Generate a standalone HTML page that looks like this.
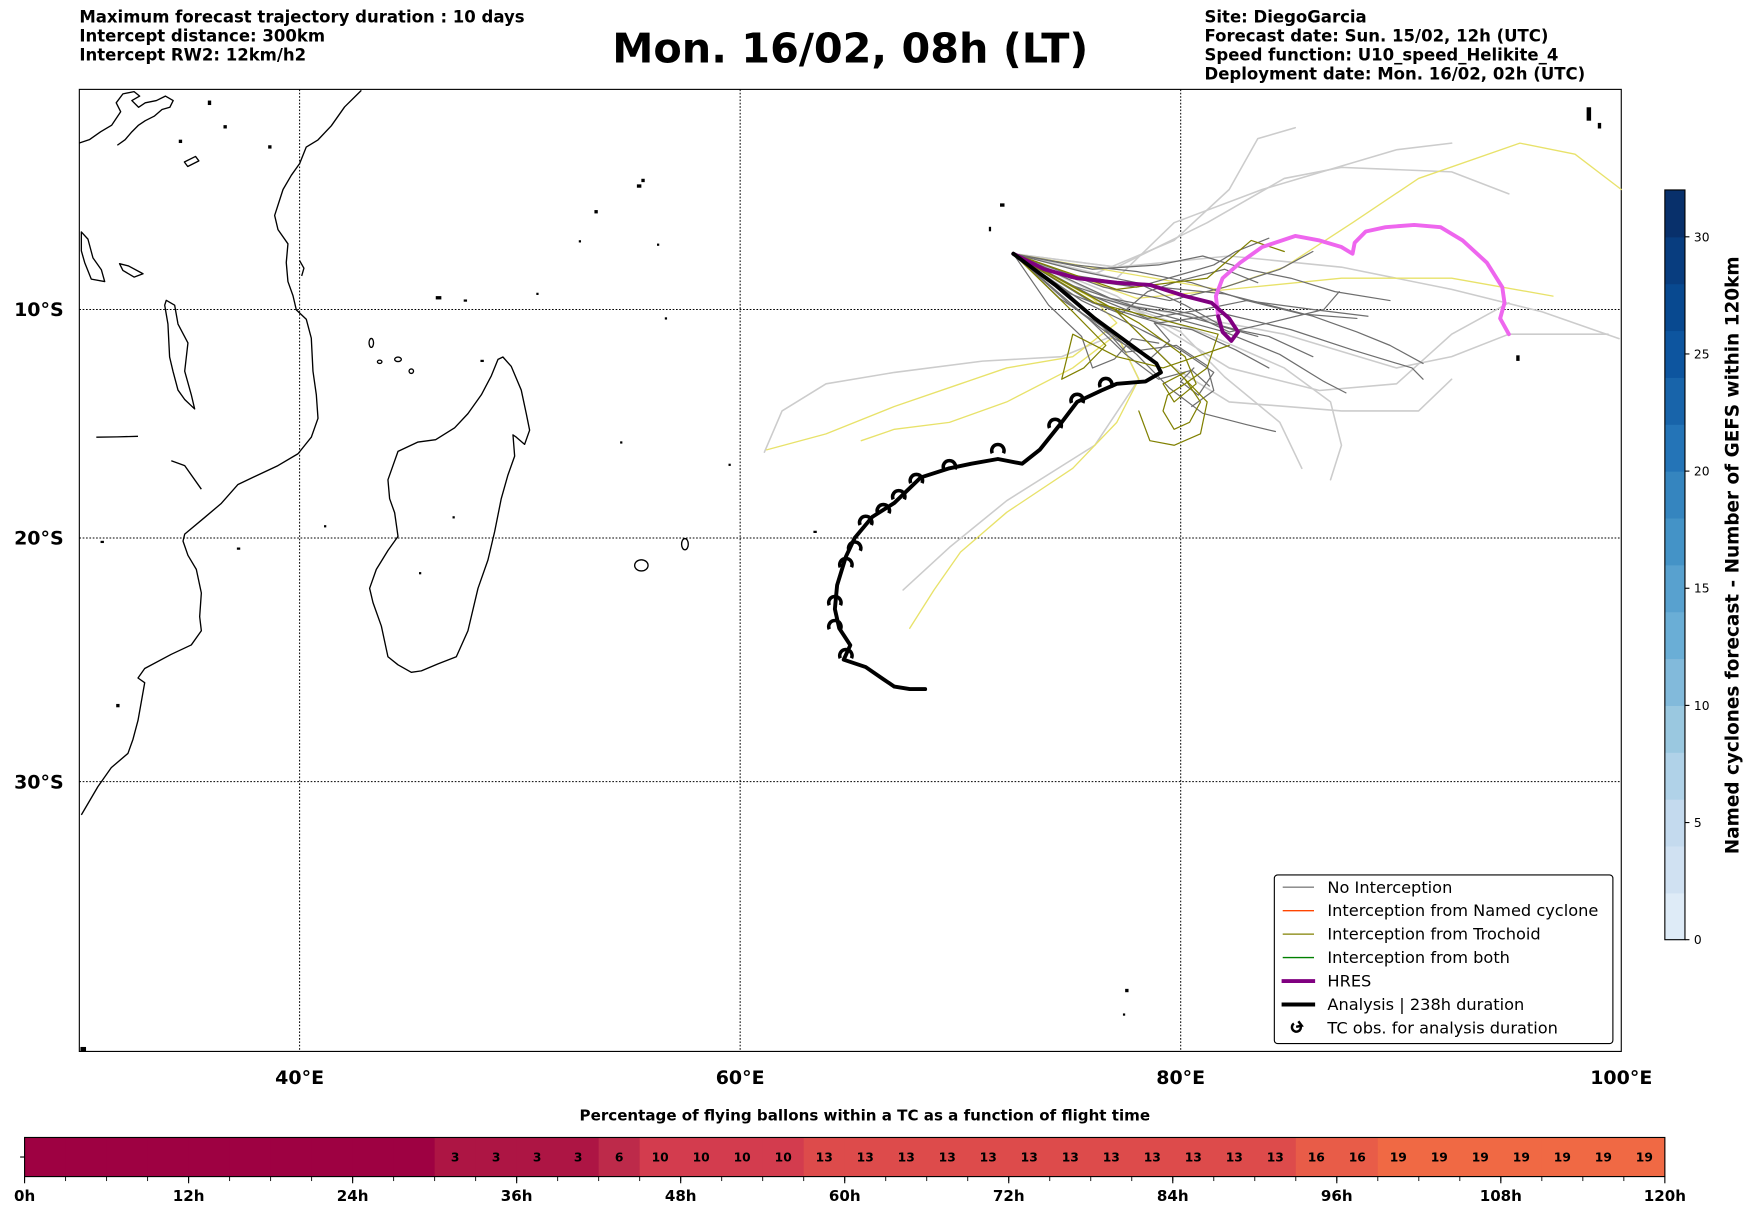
<!DOCTYPE html>
<html><head><meta charset="utf-8"><style>
html,body{margin:0;padding:0;background:#fff;}
svg{display:block;font-family:"DejaVu Sans","Liberation Sans",sans-serif;}
</style></head><body>
<svg id="chart" width="1752" height="1213" viewBox="0 0 1568 1085.6" preserveAspectRatio="none" xmlns="http://www.w3.org/2000/svg">
<g font-weight="bold" font-size="14.8">
<text x="71" y="20">Maximum forecast trajectory duration : 10 days</text>
<text x="71" y="37">Intercept distance: 300km</text>
<text x="71" y="54">Intercept RW2: 12km/h2</text>
<text x="1078" y="20">Site: DiegoGarcia</text>
<text x="1078" y="37">Forecast date: Sun. 15/02, 12h (UTC)</text>
<text x="1078" y="54">Speed function: U10_speed_Helikite_4</text>
<text x="1078" y="71">Deployment date: Mon. 16/02, 02h (UTC)</text>
</g>
<text x="761" y="56" text-anchor="middle" font-weight="bold" font-size="37">Mon. 16/02, 08h (LT)</text>

<g>
<rect x="71" y="80" width="1380" height="861" fill="#fff" stroke="#000" stroke-width="1"/>
<g fill="none" stroke="#000" stroke-width="1.2" stroke-linejoin="round">
<polyline points="323.4,80.9 308.4,95.7 296.5,112.6 284.6,125.2 274.1,131.6 268.2,146.3 260.7,156.9 253.3,169.6 245.8,192.8 248.8,205.5 257.7,218.2 256.2,235 257.7,252 262.2,264.6 265.2,277.3 274.1,285.7 278.6,302.6 280.1,332.2 283.1,353.3 284.6,374.4 278.6,391.3 266.7,406.1 248.8,416.7 230.9,425.1 213,433.6 198.1,450.5 183.2,463.1 165.3,478 163.8,484.3 168.2,497 175.7,509.6 180.2,530.7 178.7,551.9 180.2,564.5 171.2,577.2 153.3,585.6 129.5,598.3 123.5,606.8 129.5,611 126.5,627.9 123.5,644.8 119,661.7 114.5,674.3 99.6,687 87.7,703.9 72.8,729.3"/>
<polygon points="450.1,319.5 457.6,328 466.5,349.1 471,370.2 474,385 469.5,397.7 462.1,391.3 459.1,389.2 460.6,408.2 454.6,425.1 448.6,446.3 442.7,475.8 436.7,501.2 427.8,526.5 418.8,564.5 408.4,587.8 392,594.1 377.1,600.4 368.1,601.7 356.2,595 347.2,587.8 341.3,560.3 333.8,539.2 330.8,526.5 336.8,509.6 347.2,492.7 356.2,480 353.2,458.9 348.7,446.3 347.2,429.4 356.2,404 374.1,395.6 389.9,393.5 406.9,382.9 418.8,370.2 430.8,353.3 439.7,336.4 445.7,321.6"/>
<polygon points="148.8,268.8 156.3,273.1 159.3,290 168.2,306.9 165.3,332.2 171.2,353.3 174.2,366 165.3,357.5 159.3,349.1 154.8,332.2 151.8,319.5 150.3,290 147.4,273.1"/>
<polygon points="72.8,207.6 78.7,214 83.2,230.8 90.7,241.4 93.7,252 81.7,249.8 75.8,235 72.8,224.5"/>
<polyline points="71,128 80,125 90,118 100,112 108,100 104,92 110,84 120,82 125,86 118,90 124,96 130,92 140,90 148,86 155,90 152,96 145,98 138,104 130,108 124,112 118,118 112,125 105,130"/>
<polygon points="107,236 115,238 128,245 120,248 110,242"/>
<polyline points="86.2,391.3 105,391 123.5,390.5"/>
<polyline points="153.3,412.4 165.3,416.7 180.2,437.8"/>
<polygon points="165,145 175,140 178,144 168,149"/>
<ellipse cx="332.3" cy="306.9" rx="2" ry="4"/>
<ellipse cx="356.2" cy="321.6" rx="3" ry="2"/>
<ellipse cx="368.1" cy="332.2" rx="2" ry="2"/>
<ellipse cx="339.8" cy="323.8" rx="2" ry="1.5"/>
<ellipse cx="574" cy="506" rx="6" ry="5"/>
<ellipse cx="613" cy="487" rx="3" ry="5"/>
<polyline points="268,233 272,240 270,247"/>
</g>
<g fill="#000">
<rect x="574" y="160" width="3" height="3"/><rect x="570" y="165" width="4" height="3"/><rect x="532" y="188" width="3" height="3"/><rect x="518" y="215" width="2" height="2"/><rect x="588" y="218" width="2" height="2"/><rect x="595" y="284" width="2" height="2"/><rect x="480" y="262" width="2" height="2"/><rect x="390" y="265" width="5" height="3"/><rect x="415" y="268" width="3" height="2"/><rect x="430" y="322" width="3" height="2"/><rect x="555" y="395" width="2" height="2"/><rect x="652" y="415" width="2" height="2"/><rect x="728" y="475" width="3" height="2"/><rect x="895" y="182" width="4" height="3"/><rect x="885" y="203" width="2" height="4"/><rect x="1357" y="318" width="3" height="5"/><rect x="1007" y="885" width="3" height="3"/><rect x="1005" y="907" width="2" height="2"/><rect x="1420" y="96" width="4" height="12"/><rect x="1430" y="110" width="3" height="5"/><rect x="72" y="937" width="5" height="4"/><rect x="186" y="90" width="3" height="4"/><rect x="200" y="112" width="3" height="3"/><rect x="160" y="125" width="3" height="3"/><rect x="240" y="130" width="3" height="3"/><rect x="212" y="490" width="3" height="2"/><rect x="90" y="484" width="3" height="2"/><rect x="375" y="512" width="2" height="2"/><rect x="405" y="462" width="2" height="2"/><rect x="290" y="470" width="2" height="2"/><rect x="104" y="630" width="3" height="3"/>
</g>
<g id="grid" stroke="#000" stroke-width="0.9" stroke-dasharray="1.5,1.5"></g>
<g id="traj" fill="none" stroke-linejoin="round" stroke-linecap="round"></g>
<g id="tcobs" fill="none" stroke="#000" stroke-width="3.2"></g>
<g id="axlabels" font-weight="bold" font-size="17"></g>
</g>

<g font-size="14.5">
<rect x="1140.5" y="783" width="303" height="151" rx="3" fill="#fff" stroke="#000" stroke-width="1"/>
<line x1="1148" y1="794" x2="1176" y2="794" stroke="#808080" stroke-width="1.2"/><text x="1188" y="799">No Interception</text>
<line x1="1148" y1="815" x2="1176" y2="815" stroke="#ff4500" stroke-width="1.2"/><text x="1188" y="820">Interception from Named cyclone</text>
<line x1="1148" y1="836" x2="1176" y2="836" stroke="#808000" stroke-width="1.2"/><text x="1188" y="841">Interception from Trochoid</text>
<line x1="1148" y1="857" x2="1176" y2="857" stroke="#008000" stroke-width="1.2"/><text x="1188" y="862">Interception from both</text>
<line x1="1147" y1="878" x2="1177" y2="878" stroke="#800080" stroke-width="3.5"/><text x="1188" y="883">HRES</text>
<line x1="1147" y1="899" x2="1177" y2="899" stroke="#000" stroke-width="3.5"/><text x="1188" y="904">Analysis | 238h duration</text>
<path d="M1158,916 A4,4 0 1,0 1164,918 M1162,914 L1165,918 L1160,919" fill="none" stroke="#000" stroke-width="2.2"/><text x="1188" y="925">TC obs. for analysis duration</text>
</g>

<g id="cbar" font-size="11"></g>
<text transform="translate(1556,497) rotate(-90)" text-anchor="middle" font-weight="bold" font-size="16.5">Named cyclones forecast - Number of GEFS within 120km</text>

<text x="774" y="1003" text-anchor="middle" font-weight="bold" font-size="13.5">Percentage of flying ballons within a TC as a function of flight time</text>
<g id="hbar"></g>
</svg>
<script>
// ---------- map data (lon E, lat S) ----------
var lonTicks = [40, 60, 80, 100];
var latTicks = [10, 20, 30];
var startPt = [72.4, 7.5];
var noInterceptTracks = [
 [[72.4,7.5],[74,8.3],[76,8.6],[78,8.9],[80,9.1],[82,9.3],[84,9.8],[86,10.3],[88,11],[89.5,11.6],[91,12.4]],
 [[72.4,7.5],[75,8.9],[78,9.9],[79.5,10.1],[81,10.5],[82.5,10.9],[84,11.2],[86,12.1]],
 [[72.4,7.5],[75,8.6],[78,9.0],[80.5,8.3],[81.5,8.0],[82.5,7.4],[84,6.8]],
 [[72.4,7.5],[75.5,9.6],[78,10.8],[80,11.8],[81.5,12.8],[80.8,13.8],[80,13.2],[80.6,12.6]],
 [[72.4,7.5],[76,9.4],[79,10.2],[82,11.0],[84.5,12.0],[86.5,13.2],[87.5,13.7]],
 [[72.4,7.5],[74.5,9.5],[76.5,10.8],[78,12],[79.5,13.5],[81,14.6],[83,15.1],[84.3,15.4]],
 [[72.4,7.5],[76,8.2],[79,8.0],[81,7.6],[83,8.2],[85,8.6],[87,9.2],[89.5,9.6]],
 [[72.4,7.5],[75.5,9.2],[78.5,10.4],[81,10.0],[83,9.6],[85.5,10.2],[88,10.4]],
 [[72.4,7.5],[75,9.8],[77,11.3],[78.6,12.2],[79.5,11.4],[78.8,10.6],[80.5,10.9],[82.5,11.8],[84,12.6]],
 [[72.4,7.5],[76.5,9.0],[79.5,9.6],[82,9.0],[84.5,8.2],[86,7.4]],
 [[72.4,7.5],[75.5,8.3],[78,8.8],[80.2,9.8],[82,10.8],[83.5,11.2]],
 [[72.4,7.5],[74.8,9.2],[76.3,10.6],[77.5,11.9],[79.8,11.6],[81.2,12.5],[81.5,13.6],[80.5,14.3]],
 [[72.4,7.5],[76,9.7],[79,10.6],[82,10.2],[85,10.9],[87.8,11.8],[90.5,12.6],[91,13.1]],
 [[72.4,7.5],[75.2,8.0],[78,8.3],[80.5,8.8],[83,9.6],[86,10.0],[88.5,10.3]],
 [[72.4,7.5],[74,9.8],[75.5,11.2],[76,12.6],[77,12.2],[77.8,11.3],[79,11.5]],
 [[72.4,7.5],[76.8,9.5],[80.5,10.2],[82.2,11.0],[84,10.6],[86.5,10.0],[87.2,9.2]],
 [[72.4,7.5],[75,9.3],[77.3,10.2],[78.5,9.2],[80,8.7],[82,8.2],[83.5,8.8]],
 [[72.4,7.5],[75.8,10.4],[77.5,12.0],[79,13.1],[80.5,12.7],[81.3,13.4]]
];
var lightTracks = [
 [[72.4,7.5],[76.1,8.4],[79.7,6.9],[82.2,4.6],[83.5,2.3],[85.2,1.8]],
 [[72.4,7.5],[77.1,8.1],[82.2,7.6],[87.3,8.1],[92.3,9.1],[96.4,10.1],[99.9,11.3]],
 [[72.4,7.5],[77.1,9.7],[81.2,11.1],[84.7,12.6],[86.8,14.1],[87.3,16.0],[86.8,17.5]],
 [[72.4,7.5],[77.1,11.1],[74.6,12.1],[71.0,12.3],[67.0,12.8],[63.9,13.3],[61.9,14.5],[61.1,16.3]],
 [[72.4,7.5],[77.1,9.4],[79.7,11.1],[82.2,12.6],[86.3,13.6],[89.8,13.3],[92.3,11.1],[94.9,9.7]],
 [[72.4,7.5],[77.1,8.1],[81.2,6.1],[84.7,4.1],[87.3,3.6],[92.3,3.8],[94.9,4.8]],
 [[72.4,7.5],[77.1,11.1],[78.1,13.1],[76.1,16.0],[72.1,18.4],[69.5,20.4],[67.4,22.2]],
 [[72.4,7.5],[77.1,8.6],[79.7,6.1],[83.7,4.6],[89.8,2.8],[92.3,2.5]],
 [[72.4,7.5],[77.1,9.7],[84.7,11.1],[89.8,12.6],[92.3,12.1],[94.9,11.1],[99.4,11.1]],
 [[72.4,7.5],[77.1,10.1],[79.7,12.6],[82.2,14.1],[87.3,14.5],[90.8,14.5],[92.3,13.1]],
 [[72.4,7.5],[80,11],[82,13],[84.5,15],[85.5,17]]
];
var yellowTracks = [
 [[72.4,7.5],[81.7,9.1],[84.7,8.1],[87.8,6.1],[90.8,4.1],[95.4,2.5],[97.9,3.0],[100,4.6]],
 [[72.4,7.5],[76,9.5],[77.1,10.6],[75.1,12.1],[72.1,12.6],[70.0,13.3],[67.0,14.3],[63.9,15.5],[61.2,16.2]],
 [[72.4,7.5],[77.1,11.1],[75.1,12.6],[72.1,14.1],[69.5,15.0],[67.0,15.3],[65.5,15.8]],
 [[72.4,7.5],[77.1,11.1],[78.1,13.1],[77.1,15.0],[75.1,17.0],[72.1,18.9],[70.0,20.6],[68.8,22.2],[67.7,23.8]],
 [[72.4,7.5],[78,9.5],[82.2,9.1],[87.3,8.6],[92.3,8.6],[96.9,9.4]]
];
var trochoidTracks = [
 [[72.4,7.5],[76.1,9.7],[79.7,10.6],[81.7,11.1],[81.2,12.6],[80.2,13.3],[79.4,13.8],[79.2,14.5],[79.7,15.3],[80.4,15.0],[80.9,14.1],[80.2,13.1]],
 [[72.4,7.5],[75.1,10.1],[76.6,11.6],[75.6,12.6],[74.6,13.1],[75.1,11.1],[77.1,12.1],[79.2,12.6],[80.7,12.1],[82.2,11.6]],
 [[72.4,7.5],[77.1,9.1],[81.2,8.6],[83.2,6.9],[84.7,7.4]],
 [[72.4,7.5],[78.1,10.6],[80.2,12.1],[80.7,13.3],[79.7,14.1],[79.2,13.3],[80.2,12.8]],
 [[72.4,7.5],[77,10],[80.2,13.1],[81.2,14.1],[80.9,15.5],[79.7,16.0],[78.6,15.8],[78.1,14.5]]
];
var hresTrack = [[72.4,7.5],[73.8,8.2],[75.3,8.6],[77.1,8.8],[78.6,8.9],[80.2,9.4],[81.4,9.7],[82.2,10.4],[82.6,11.0],[82.3,11.4],[81.9,11.0],[81.7,10.3]];
var hresLateTrack = [[81.7,10.3],[81.6,9.4],[81.9,8.6],[82.7,7.9],[83.7,7.2],[85.2,6.7],[86.3,6.9],[87.3,7.2],[87.8,7.5],[87.9,7.0],[88.4,6.5],[89.3,6.3],[90.6,6.2],[91.8,6.3],[92.8,6.9],[93.9,7.9],[94.6,9.0],[94.7,9.7],[94.5,10.4],[94.9,11.1]];
var analysisTrack = [[72.4,7.5],[74.3,8.9],[76.1,10.4],[77.9,11.7],[78.9,12.4],[79.1,12.8],[78.4,13.2],[77.1,13.3],[76.4,13.6],[75.3,14.1],[74.6,15.0],[73.6,16.2],[72.8,16.8],[71.7,16.6],[70.5,16.8],[69.5,17.0],[68.2,17.4],[67.0,18.5],[66.0,19.1],[65.2,20.0],[64.8,20.8],[64.4,22.0],[64.3,23.0],[64.5,23.8],[65.0,24.5],[64.7,25.1],[65.7,25.4],[66.5,25.9],[67.0,26.2],[67.7,26.3],[68.4,26.3]];
var tcObs = [[76.6,13.3],[75.3,14.0],[74.3,15.1],[71.7,16.2],[69.5,16.9],[68.0,17.5],[67.2,18.2],[66.5,18.8],[65.7,19.3],[65.2,20.4],[64.8,21.1],[64.3,22.7],[64.3,23.7],[64.8,24.9]];

// ---------- colorbar / bottom bar data ----------
var cbarTicks = [0,5,10,15,20,25,30];
var cbarMax = 32;
var hourTicks = [0,12,24,36,48,60,72,84,96,108,120];
var pctValues = [0,0,0,0,0,0,0,0,0,0,3,3,3,3,6,10,10,10,10,13,13,13,13,13,13,13,13,13,13,13,13,16,16,19,19,19,19,19,19,19];
var stepHours = 3;

var NS='http://www.w3.org/2000/svg';
function mk(tag, attrs, parent){var e=document.createElementNS(NS,tag);for(var k in attrs){e.setAttribute(k,String(attrs[k]));}parent.appendChild(e);return e;}
function merc(d){return Math.log(Math.tan(Math.PI/4 + d*Math.PI/360));}
function xLon(lon){return 71 + (lon-30)*19.714;}
function yLat(lat){return 277 + (merc(lat)-merc(10))*1130;}
function pts(a){return a.map(function(p){return xLon(p[0]).toFixed(1)+','+yLat(p[1]).toFixed(1);}).join(' ');}
</script>
<script>
try{
var grid=document.getElementById('grid');
lonTicks.forEach(function(l){ if(l<100){ var ln=mk('line',{x1:xLon(l),x2:xLon(l),y1:80,y2:941},grid);

}});
latTicks.forEach(function(l){ var ln=mk('line',{x1:71,x2:1451,y1:yLat(l),y2:yLat(l)},grid);

});
var ax=document.getElementById('axlabels');
lonTicks.forEach(function(l){ var t=mk('text',{x:xLon(l),y:970,'text-anchor':'middle'},ax); t.textContent=l+'°E';

});
latTicks.forEach(function(l){ var t=mk('text',{x:57,y:yLat(l)+6,'text-anchor':'end'},ax); t.textContent=l+'°S';

});
}catch(e){}
</script>
<script>
try{
var tr=document.getElementById('traj');
function draw(list,color,w,name){list.forEach(function(t,i){var p=mk('polyline',{points:pts(t),stroke:color,'stroke-width':w},tr);

});}
draw(lightTracks,'#cccccc',1.4,'light-track');
draw(yellowTracks,'#e8e26a',1.2,'yellow-track');
draw(noInterceptTracks,'#6e6e6e',1.1,'no-interception-track');
draw(trochoidTracks,'#808000',1.1,'trochoid-track');
draw([hresLateTrack],'#ee66ee',3.5,'hres-late-track');
draw([hresTrack],'#800080',3.5,'hres-track');
draw([analysisTrack],'#000',3.5,'analysis-track');
}catch(e){}
</script>
<script>
try{
var tg=document.getElementById('tcobs');
tcObs.forEach(function(p){
var cx=xLon(p[0]), cy=yLat(p[1]);
var m=mk('path',{d:'M'+(cx+5)+','+(cy+3)+' A5.5,5.5 0 1,0 '+(cx-5)+','+(cy+3)},tg);


});
}catch(e){}
</script>
<script>
try{
var cb=document.getElementById('cbar');
var cbTop=170, cbBot=841, cbX=1490, cbW=18;
function CY(v){return cbBot-(v/cbarMax)*(cbBot-cbTop);}
var blues=['#deebf7','#d0e1f2','#c4daee','#b0d2e8','#9ac8e0','#82badb','#6aaed6','#58a1cf','#4493c7','#3585bf','#2474b7','#1864aa','#0d559f','#084990','#083d7f','#08306b'];
for(var i=0;i<16;i++){var r=mk('rect',{x:cbX,y:CY((i+1)*2),width:cbW,height:CY(i*2)-CY((i+1)*2)+0.5,fill:blues[i]},cb);

}
mk('rect',{x:cbX,y:cbTop,width:cbW,height:cbBot-cbTop,fill:'none',stroke:'#000','stroke-width':1},cb);
cbarTicks.forEach(function(v){mk('line',{x1:cbX+cbW,x2:cbX+cbW+4,y1:CY(v),y2:CY(v),stroke:'#000'},cb);
var t=mk('text',{x:cbX+cbW+8,y:CY(v)+4},cb);t.textContent=String(v);

});
}catch(e){}
</script>
<script>
try{
var hb=document.getElementById('hbar');
var bx0=22,bx1=1490,by0=1018,by1=1053;
function HX(h){return bx0+h/120*(bx1-bx0);}
var pmap={0:'#9e0142',3:'#ad1544',6:'#bd2a4a',10:'#d33c4e',13:'#dd4b4b',16:'#e85c48',19:'#f06944'};
function pcol(v){return pmap[v]||'#f47d4a';}
pctValues.forEach(function(v,i){var r=mk('rect',{x:HX(i*stepHours),y:by0,width:HX((i+1)*stepHours)-HX(i*stepHours)+0.4,height:by1-by0,fill:pcol(v)},hb);


if(v>0){var t=mk('text',{x:HX(i*stepHours+1.5),y:(by0+by1)/2+4,'text-anchor':'middle','font-size':11,'font-weight':'bold'},hb);t.textContent=String(v);

}
mk('line',{x1:HX(i*stepHours),x2:HX(i*stepHours),y1:by1,y2:by1+4,stroke:'#000','stroke-width':0.8},hb);});
mk('rect',{x:bx0,y:by0,width:bx1-bx0,height:by1-by0,fill:'none',stroke:'#000','stroke-width':1},hb);
mk('line',{x1:bx0-4,x2:bx0,y1:(by0+by1)/2,y2:(by0+by1)/2,stroke:'#000'},hb);
hourTicks.forEach(function(h){mk('line',{x1:HX(h),x2:HX(h),y1:by1,y2:by1+6,stroke:'#000'},hb);
var t=mk('text',{x:HX(h),y:1075,'text-anchor':'middle','font-size':13.5,'font-weight':'bold'},hb);t.textContent=h+'h';

});
}catch(e){}
</script>
</body></html>
